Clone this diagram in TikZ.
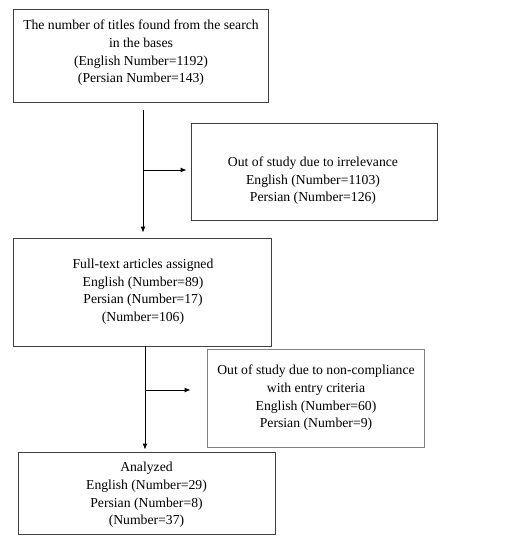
\documentclass[tikz,border=0pt]{standalone}
\usepackage{fontspec}
\setmainfont{Liberation Serif}
\usetikzlibrary{arrows.meta,calc}
\begin{document}
\begin{tikzpicture}[x=1pt,y=-1pt,
  box/.style={draw=black!75,line width=0.9pt,rectangle,inner sep=0pt},
  txt/.style={align=center,inner sep=0pt,font=\fontsize{13.7}{17.6}\selectfont},
  arr/.style={draw=black,line width=0.9pt,-{Latex[length=6pt,width=5pt]}}]
\useasboundingbox (0,0) rectangle (514,542);
\node[box,minimum width=255pt,minimum height=93pt] (b1) at (140.5,55.5) {};
\node[txt] (t1) at (141,53) {The number of titles found from the search\\in the bases\\(English Number=1192)\\(Persian Number=143)};
\node[box,minimum width=246pt,minimum height=97pt] (b2) at (314,171.5) {};
\node[txt] (t2) at (313,181) {Out of study due to irrelevance\\English (Number=1103)\\Persian (Number=126)};
\node[box,minimum width=258pt,minimum height=108pt] (b3) at (142,292) {};
\node[txt] (t3) at (143,291.5) {Full-text articles assigned\\English (Number=89)\\Persian (Number=17)\\(Number=106)};
\node[box,draw=black!50,minimum width=217pt,minimum height=98pt] (b5) at (315.5,398) {};
\node[txt] (t5) at (316,398) {Out of study due to non-compliance\\with entry criteria\\English (Number=60)\\Persian (Number=9)};
\node[box,minimum width=257pt,minimum height=82pt] (b4) at (146.5,493) {};
\node[txt] (t4) at (146.5,495) {Analyzed\\English (Number=29)\\Persian (Number=8)\\(Number=37)};
\coordinate (v1) at (143,110);
\coordinate (j1) at (143,170);
\draw[arr,shorten >=5pt] (v1) -- (b3.north -| v1);
\draw[arr,shorten >=4pt] (j1) -- (b2.west |- j1);
\coordinate (v2) at (145,346);
\coordinate (j2) at (145,390);
\draw[arr,shorten >=2pt] (v2) -- (b4.north -| v2);
\draw[arr,shorten >=16pt] (j2) -- (b5.west |- j2);
\end{tikzpicture}
\end{document}
